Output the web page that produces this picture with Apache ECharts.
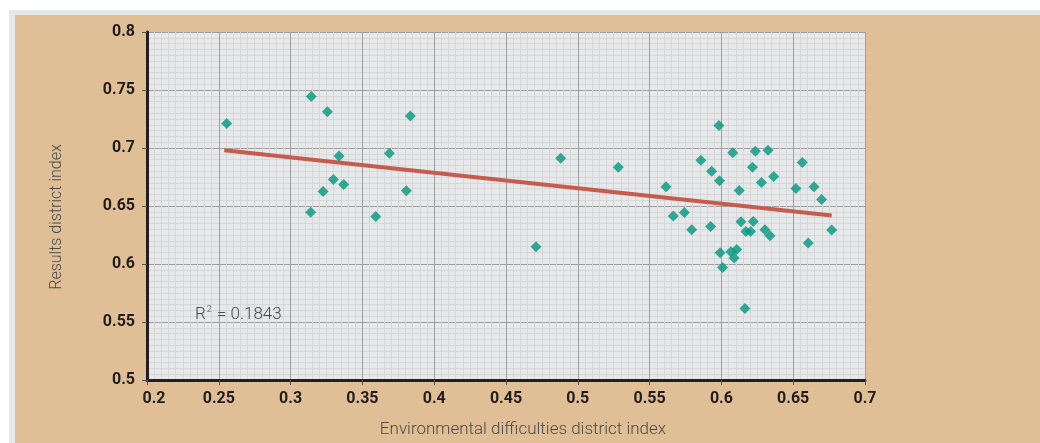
<!DOCTYPE html>
<html>
<head>
<meta charset="utf-8">
<script src="https://cdn.jsdelivr.net/npm/echarts@6/dist/echarts.min.js"></script>
<style>
    html, body { margin: 0; padding: 0; background: #fff; }
    #frame { position: absolute; left: 9px; top: 10px; width: 1031px; height: 433px; background: #e6e7e9; }
    #panel { position: absolute; left: 15px; top: 15px; width: 1025px; height: 428px; background: #e1bf96; }
    #main { position: absolute; left: 0; top: 0; width: 1040px; height: 443px; }
</style>
</head>
<body>
<div id="frame"></div>
<div id="panel"></div>
<div id="main"></div>
<script>
// district points: environmental difficulties index (x) vs results index (y)
var envIndex = [
    0.2555, 0.3144, 0.3256, 0.3834, 0.3337, 0.3688, 0.3298, 0.3370, 0.3226, 0.3806, 0.3140, 0.3593,
    0.4881, 0.5282, 0.4709,
    0.5983, 0.6079, 0.6236, 0.6325, 0.6563, 0.5857, 0.5932, 0.6216, 0.5987, 0.6279, 0.6364,
    0.6124, 0.5614, 0.6519, 0.6645, 0.6698, 0.6768, 0.6605, 0.5665, 0.5742, 0.5793, 0.5925,
    0.6136, 0.6222, 0.6171, 0.6203, 0.6303, 0.6338, 0.5991, 0.6066, 0.6107, 0.6089, 0.6008, 0.6164
];
var resultIndex = [
    0.7212, 0.7444, 0.7312, 0.7275, 0.6931, 0.6954, 0.6728, 0.6685, 0.6625, 0.6631, 0.6447, 0.6410,
    0.6912, 0.6834, 0.6149,
    0.7195, 0.6960, 0.6971, 0.6980, 0.6874, 0.6895, 0.6800, 0.6834, 0.6717, 0.6702, 0.6754,
    0.6633, 0.6665, 0.6650, 0.6665, 0.6556, 0.6293, 0.6181, 0.6413, 0.6444, 0.6295, 0.6324,
    0.6364, 0.6366, 0.6281, 0.6281, 0.6295, 0.6244, 0.6098, 0.6106, 0.6124, 0.6051, 0.5969, 0.5616
];
// linear trend line end points
var trendX = [0.2538, 0.6768];
var trendY = [0.6980, 0.6418];
var rSquared = '0.1843';

var points = [];
for (var i = 0; i < envIndex.length; i++) {
    points.push([envIndex[i], resultIndex[i]]);
}
var trend = [];
for (var j = 0; j < trendX.length; j++) {
    trend.push([trendX[j], trendY[j]]);
}

var myChart = echarts.init(document.getElementById('main'));
var option = {
    backgroundColor: 'transparent',
    animation: false,
    grid: {
        left: 147,
        right: 175,
        top: 32,
        bottom: 62,
        show: true,
        backgroundColor: '#e7e8e9',
        borderWidth: 0
    },
    xAxis: {
        type: 'value',
        min: 0.2,
        max: 0.7,
        interval: 0.05,
        name: 'Environmental difficulties district index',
        nameLocation: 'middle',
        nameGap: 41,
        nameTextStyle: {
            color: '#4a4a4a',
            fontFamily: 'Roboto',
            fontWeight: 300,
            fontSize: 17,
            padding: [0, 0, 0, 34]
        },
        axisLine: { onZero: false, lineStyle: { color: '#231f20', width: 3 } },
        axisTick: { show: true, length: 5, lineStyle: { color: '#555', width: 1 } },
        axisLabel: {
            color: '#1f1c1d',
            fontFamily: 'Roboto',
            fontWeight: 'bold',
            fontSize: 16,
            margin: 11,
            // first label sits a little right of the corner
            formatter: function (v, idx) {
                return idx === 0 ? '{first|' + v + '}' : String(v);
            },
            rich: {
                first: {
                    color: '#1f1c1d',
                    fontFamily: 'Roboto',
                    fontWeight: 'bold',
                    fontSize: 16,
                    padding: [0, 0, 0, 14]
                }
            }
        },
        splitLine: { show: true, lineStyle: { color: '#9d9ea0', width: 1 } },
        minorTick: { show: false, splitNumber: 10 },
        minorSplitLine: { show: true, lineStyle: { color: '#d5d7d9', width: 1 } }
    },
    yAxis: {
        type: 'value',
        min: 0.5,
        max: 0.8,
        interval: 0.05,
        name: 'Results district index',
        nameLocation: 'middle',
        nameGap: 82,
        nameTextStyle: {
            color: '#4a4a4a',
            fontFamily: 'Roboto',
            fontWeight: 300,
            fontSize: 16,
            padding: [0, 22, 0, 0]
        },
        axisLine: { onZero: false, lineStyle: { color: '#231f20', width: 3 } },
        axisTick: { show: true, length: 5, lineStyle: { color: '#555', width: 1 } },
        axisLabel: {
            color: '#1f1c1d',
            fontFamily: 'Roboto',
            fontWeight: 'bold',
            fontSize: 16,
            margin: 12
        },
        splitLine: { show: true, lineStyle: { color: '#9d9ea0', width: 1 } },
        minorTick: { show: false, splitNumber: 10 },
        minorSplitLine: { show: true, lineStyle: { color: '#d5d7d9', width: 1 } }
    },
    graphic: [{
        type: 'text',
        left: 195,
        top: 305,
        style: {
            text: '{r|R}{s|2}{r| = ' + rSquared + '}',
            rich: {
                r: { fontFamily: 'Roboto', fontWeight: 300, fontSize: 17, fill: '#4a4a4a', verticalAlign: 'bottom' },
                s: { fontFamily: 'Roboto', fontWeight: 300, fontSize: 9, fill: '#4a4a4a', verticalAlign: 'top', padding: [0, 1, 9, 1] }
            }
        },
        z: 10
    }],
    series: [
        {
            name: 'trend',
            type: 'line',
            data: trend,
            symbol: 'none',
            lineStyle: { color: '#c65b4f', width: 4 },
            z: 2
        },
        {
            name: 'districts',
            type: 'scatter',
            data: points,
            symbol: 'diamond',
            symbolSize: [11, 11],
            itemStyle: { color: '#00977f' },
            z: 3
        }
    ]
};
myChart.setOption(option);
</script>
</body>
</html>
